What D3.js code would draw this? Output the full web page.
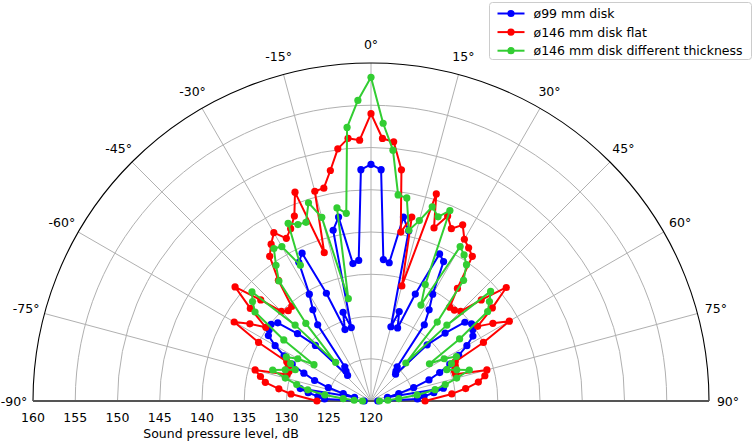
<!DOCTYPE html>
<html>
<head>
<meta charset="utf-8">
<script src="https://cdn.jsdelivr.net/npm/d3@7"></script>
<style>
    body { margin: 0; background: #fff; }
    text { font-family: "DejaVu Sans", sans-serif; font-size: 12.5px; fill: #000; }
</style>
</head>
<body>
<svg id="chart" width="754" height="442"></svg>
<script>
// Measurement angles (deg, 0 = on axis, negative = left)
const angles = [
    -90, -87.5, -85, -82.5, -80, -77.5, -75, -72.5, -70, -67.5, -65, -62.5, -60,
    -57.5, -55, -52.5, -50, -47.5, -45, -42.5, -40, -37.5, -35, -32.5, -30,
    -27.5, -25, -22.5, -20, -17.5, -15, -12.5, -10, -7.5, -5, -2.5, 0,
    2.5, 5, 7.5, 10, 12.5, 15, 17.5, 20, 22.5, 25, 27.5, 30,
    32.5, 35, 37.5, 40, 42.5, 45, 47.5, 50, 52.5, 55, 57.5, 60,
    62.5, 65, 67.5, 70, 72.5, 75, 77.5, 80, 82.5, 85, 87.5, 90
];

// Sound pressure level, dB (null = no point)
const disk99 = [
    120.8, 125.5, 126.3, 127.5, 128.5, 122.0, 123.4, 125.3, 127.1, 128.6, 130.3, 131.6, 133.1,
    134.4, 134.7, 134.9, 134.4, 131.8, 129.3, 124.1, 124.6, 125.1, 131.0, 132.8, 134.6,
    138.5, 139.3, 133.8, 129.0, 131.0, 129.0, 140.7, 142.1, 136.4, 136.7, 147.4, 148.0,
    147.4, 136.8, 136.5, 142.1, 140.6, 129.1, 131.1, 129.2, 133.7, 139.2, 138.6, 134.6,
    132.8, 131.0, 125.1, 124.6, 124.3, 129.4, 131.9, 134.5, 135.0, 134.7, 134.3, 133.1,
    131.7, 130.3, 128.8, 127.3, 125.3, 123.4, 122.0, 128.7, 127.5, 126.3, 125.5, 120.8
];

const disk146Flat = [
    126.4, null, 129.5, 131.0, 132.7, 133.4, 134.2, 130.4, 130.3, 130.6, 131.0, 135.0, 138.7,
    137.0, 135.2, 138.0, 141.0, 137.7, 135.0, 134.5, 134.6, 138.0, 140.9, 142.0, 143.0,
    141.7, 142.5, 143.7, 146.3, 138.4, 145.7, 145.8, 147.7, 150.1, 151.2, 150.9, 154.0,
    151.1, 150.8, 147.6, 140.3, 142.3, 134.1, 145.7, 141.8, 143.7, 142.5, 143.5, 142.1,
    141.5, 140.9, 136.8, 134.5, 134.6, 135.0, 137.7, 140.9, 138.1, 135.4, 137.1, 138.9,
    135.0, 131.0, 130.8, 130.5, 130.5, 134.2, 133.8, 132.9, 131.3, 129.6, null, 126.4
];

const disk146Thick = [
    121.0, 122.0, 123.3, 125.5, 127.6, 129.0, 130.5, 132.2, 130.8, 129.7, 130.5, 131.3, 130.0,
    128.0, 132.6, 137.3, 138.3, 139.1, 132.7, 126.2, 132.0, 137.9, 139.6, 141.4, 141.1,
    138.1, 143.2, 142.6, 142.5, 144.6, 142.5, 132.4, 143.2, 142.4, 152.5, 155.6, 158.3,
    152.9, 149.8, 144.6, 144.4, 140.7, 142.1, 144.1, 143.2, 144.4, 135.2, 132.8, 141.1,
    140.5, 139.7, 138.0, 132.2, 126.1, 132.7, 139.2, 138.3, 137.4, 132.8, 128.2, 130.0,
    131.4, 130.5, 129.7, 130.8, 132.2, 130.5, 129.0, 127.7, 125.5, 123.3, 122.0, 121.0
];

const seriesNames = [
    "ø99 mm disk",
    "ø146 mm disk flat",
    "ø146 mm disk different thickness"
];
const rTicks = [160, 155, 150, 145, 140, 135, 130, 125, 120];
const thetaTicks = [-90, -75, -60, -45, -30, -15, 0, 15, 30, 45, 60, 75, 90];

// Configuration object
const config = {
    center: { x: 371, y: 401 },
    radius: 338,
    colors: ["#0000ff", "#ff0000", "#32cd32"],
    grid: "#b0b0b0",
    lineWidth: 2,
    markerRadius: 3.6
};

const rad = deg => deg * Math.PI / 180;
const rScale = d3.scaleLinear().domain([120, 160]).range([0, config.radius]);

const svg = d3.select("#chart");
const g = svg.append("g")
    .attr("transform", `translate(${config.center.x},${config.center.y})`);

// Grid circles (half)
rTicks.filter(v => v > 120 && v < 160).forEach(v => {
    const p = d3.path();
    const rr = rScale(v);
    p.moveTo(-rr, 0);
    p.arc(0, 0, rr, Math.PI, 2 * Math.PI);
    g.append("path")
        .attr("d", p.toString())
        .attr("fill", "none")
        .attr("stroke", config.grid)
        .attr("stroke-width", 1);
});

// Radial grid lines
thetaTicks.filter(a => Math.abs(a) < 90).forEach(a => {
    const [x, y] = d3.pointRadial(rad(a), config.radius);
    g.append("line")
        .attr("x1", 0).attr("y1", 0)
        .attr("x2", x).attr("y2", y)
        .attr("stroke", config.grid)
        .attr("stroke-width", 1);
});

// Outer arc and baseline
const outer = d3.path();
outer.moveTo(-config.radius, 0);
outer.arc(0, 0, config.radius, Math.PI, 2 * Math.PI);
g.append("path")
    .attr("d", outer.toString())
    .attr("fill", "none")
    .attr("stroke", "#000")
    .attr("stroke-width", 1.1);

g.append("line")
    .attr("x1", -config.radius).attr("y1", 0)
    .attr("x2", config.radius).attr("y2", 0)
    .attr("stroke", "#555")
    .attr("stroke-width", 2);

// Theta labels
thetaTicks.forEach(a => {
    const [x, y] = d3.pointRadial(rad(a), config.radius + 19);
    g.append("text")
        .attr("x", x)
        .attr("y", y)
        .attr("text-anchor", "middle")
        .attr("dominant-baseline", "central")
        .text(`${a}°`);
});

// Radial labels along the baseline
rTicks.forEach(v => {
    g.append("text")
        .attr("x", -rScale(v))
        .attr("y", 16)
        .attr("text-anchor", "middle")
        .attr("dominant-baseline", "central")
        .text(v);
});

svg.append("text")
    .attr("x", 221)
    .attr("y", 433)
    .attr("text-anchor", "middle")
    .attr("dominant-baseline", "central")
    .text("Sound pressure level, dB");

// Data series
const allSeries = [disk99, disk146Flat, disk146Thick].map((vals, i) => ({
    name: seriesNames[i],
    color: config.colors[i],
    points: angles.map((a, j) => ({ a, v: vals[j] })).filter(d => d.v !== null)
}));

const line = d3.lineRadial()
    .angle(d => rad(d.a))
    .radius(d => rScale(d.v));

allSeries.forEach(s => {
    const sg = g.append("g");
    sg.append("path")
        .attr("d", line(s.points))
        .attr("fill", "none")
        .attr("stroke", s.color)
        .attr("stroke-width", config.lineWidth)
        .attr("stroke-linejoin", "round");
    sg.selectAll("circle")
        .data(s.points)
        .enter()
        .append("circle")
        .attr("cx", d => d3.pointRadial(rad(d.a), rScale(d.v))[0])
        .attr("cy", d => d3.pointRadial(rad(d.a), rScale(d.v))[1])
        .attr("r", config.markerRadius)
        .attr("fill", s.color);
});

// Legend
const legend = svg.append("g").attr("transform", "translate(489.5,2.5)");
legend.append("rect")
    .attr("width", 262)
    .attr("height", 57)
    .attr("rx", 3)
    .attr("fill", "#fff")
    .attr("fill-opacity", 0.8)
    .attr("stroke", "#ccc");

allSeries.forEach((s, i) => {
    const y = 11 + i * 18.6;
    legend.append("line")
        .attr("x1", 8).attr("x2", 35)
        .attr("y1", y).attr("y2", y)
        .attr("stroke", s.color)
        .attr("stroke-width", config.lineWidth);
    legend.append("circle")
        .attr("cx", 21.5).attr("cy", y)
        .attr("r", config.markerRadius)
        .attr("fill", s.color);
    legend.append("text")
        .attr("x", 44)
        .attr("y", y)
        .attr("dominant-baseline", "central")
        .text(s.name);
});
</script>
</body>
</html>
